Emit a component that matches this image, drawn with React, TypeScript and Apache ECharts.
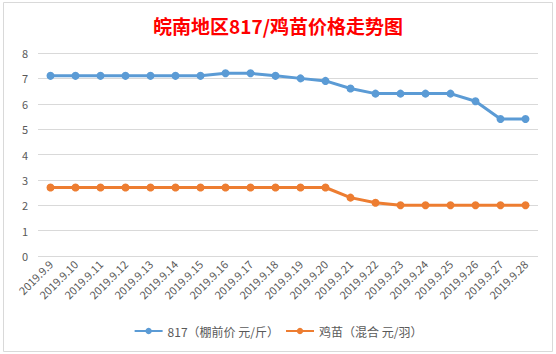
import React, { useEffect, useRef } from "react";
import * as echarts from "echarts";

const categories = [
  "2019.9.9", "2019.9.10", "2019.9.11", "2019.9.12", "2019.9.13",
  "2019.9.14", "2019.9.15", "2019.9.16", "2019.9.17", "2019.9.18",
  "2019.9.19", "2019.9.20", "2019.9.21", "2019.9.22", "2019.9.23",
  "2019.9.24", "2019.9.25", "2019.9.26", "2019.9.27", "2019.9.28",
];
const series817 = [7.1, 7.1, 7.1, 7.1, 7.1, 7.1, 7.1, 7.2, 7.2, 7.1, 7.0, 6.9, 6.6, 6.4, 6.4, 6.4, 6.4, 6.1, 5.4, 5.4];
const seriesChick = [2.7, 2.7, 2.7, 2.7, 2.7, 2.7, 2.7, 2.7, 2.7, 2.7, 2.7, 2.7, 2.3, 2.1, 2.0, 2.0, 2.0, 2.0, 2.0, 2.0];
const name817 = "817（棚前价 元/斤）";
const nameChick = "鸡苗（混合 元/羽）";
const titleText = "皖南地区817/鸡苗价格走势图";

export default function App() {
  const ref = useRef<HTMLDivElement>(null);
  useEffect(() => {
    document.body.style.margin = "0";
    const chart = echarts.init(ref.current!, null, { renderer: "svg" });
    const font = "'Microsoft YaHei', 'Noto Sans CJK SC', sans-serif";
    chart.setOption({
      animation: false,
      backgroundColor: "#ffffff",
      title: {
        text: titleText,
        left: "center",
        top: 11,
        textStyle: { color: "#FF0000", fontSize: 19, fontWeight: "bold", fontFamily: font },
      },
      graphic: [
        { type: "rect", shape: { x: 3.5, y: 2.5, width: 549, height: 349 }, style: { fill: "none", stroke: "#d9d9d9", lineWidth: 1 } },
      ],
      legend: {
        bottom: 12,
        left: "center",
        itemWidth: 28,
        itemHeight: 8,
        itemGap: 6,
        textStyle: { color: "#595959", fontSize: 12, fontFamily: font },
        data: [name817, nameChick],
      },
      grid: { left: 38, right: 18, top: 53, height: 203 },
      xAxis: {
        type: "category",
        data: categories,
        boundaryGap: true,
        axisLine: { show: false },
        axisTick: { show: false },
        axisLabel: { rotate: 45, color: "#595959", fontSize: 11, interval: 0, margin: 6, fontFamily: font },
      },
      yAxis: {
        type: "value",
        min: 0,
        max: 8,
        interval: 1,
        axisLine: { show: false },
        axisTick: { show: false },
        axisLabel: { color: "#595959", fontSize: 11, margin: 10, fontFamily: font },
        splitLine: { lineStyle: { color: "#d9d9d9", width: 1 } },
      },
      series: [
        {
          name: name817,
          type: "line",
          data: series817,
          symbol: "circle",
          symbolSize: 8,
          itemStyle: { color: "#5B9BD5" },
          lineStyle: { color: "#5B9BD5", width: 3 },
        },
        {
          name: nameChick,
          type: "line",
          data: seriesChick,
          symbol: "circle",
          symbolSize: 8,
          itemStyle: { color: "#ED7D31" },
          lineStyle: { color: "#ED7D31", width: 3 },
        },
      ],
    });
    return () => chart.dispose();
  }, []);
  return <div ref={ref} style={{ width: 556, height: 354 }} />;
}
